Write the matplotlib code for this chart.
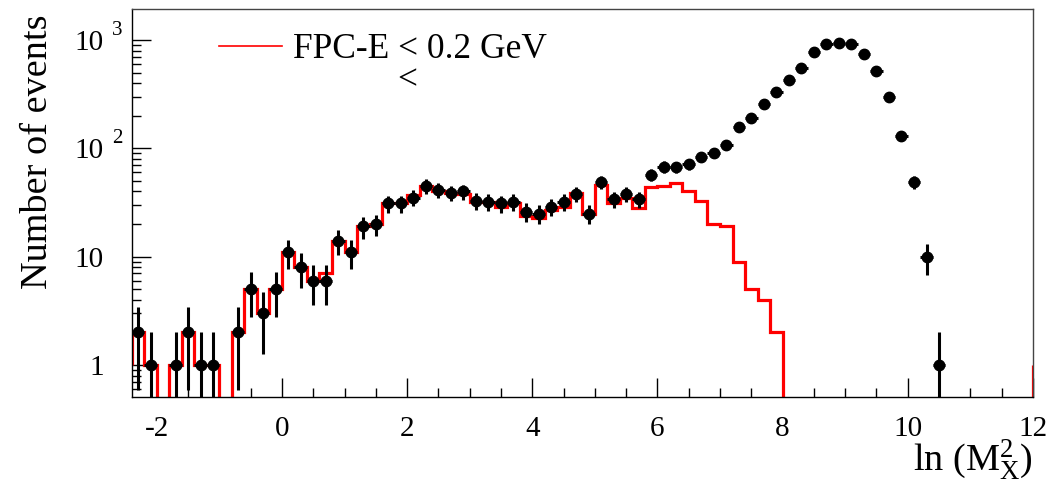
import numpy as np
import matplotlib
matplotlib.use("Agg")
import matplotlib.pyplot as plt
from matplotlib.lines import Line2D
from matplotlib.ticker import FixedLocator, LogLocator, MultipleLocator, NullFormatter
import matplotlib.transforms as mtransforms

plt.rcParams['font.family'] = ['Liberation Serif', 'DejaVu Serif']
plt.rcParams['mathtext.fontset'] = 'custom'
plt.rcParams['mathtext.rm'] = 'Liberation Serif'
plt.rcParams['mathtext.it'] = 'Liberation Serif:italic'
plt.rcParams['axes.unicode_minus'] = False

# histogram binning: 72 bins of 0.2 from -2.4 to 12
x_lo, x_hi, n_bins = -2.4, 12.0, 72

# all events (black points), bin centres -2.3 ... 11.9
all_counts = [2, 1, 0, 1, 2, 1, 1, 0, 2, 5, 3, 5,
              11, 8, 6, 6, 14, 11, 19, 20, 31, 31,
              35, 45, 41, 39, 40, 33, 32, 31, 32, 26,
              25, 29, 32, 38, 25, 49, 34, 38, 34, 57,
              68, 67, 71, 84, 91, 107, 157, 190, 259, 332,
              426, 554, 769, 918, 932, 912, 738, 516, 299, 130,
              49, 10, 1, 0, 0, 0, 0, 0, 0, 0]

# FPC-E < 0.2 GeV (red histogram)
fpc_counts = [2, 1, 0, 1, 2, 1, 1, 0, 2, 5, 3, 5,
              11, 8, 6, 7, 14, 11, 19, 20, 31, 31,
              37, 45, 40, 39, 38, 32, 32, 29, 31, 24,
              23, 27, 29, 39, 25, 46, 31, 35, 28, 44,
              45, 48, 40, 33, 20, 19, 9, 5, 4, 2,
              0, 0, 0, 0, 0, 0, 0, 0, 0, 0,
              0, 0, 0, 0, 0, 0, 0, 0, 0, 0]
fpc_underflow = 1
fpc_overflow = 1

legend_label = "FPC-E < 0.2 GeV"
y_ticks = [1, 10, 100, 1000]
y_ticklabels = ["1", "10", "10", "10"]
y_exponents = ["", "", "2", "3"]

edges = np.linspace(x_lo, x_hi, n_bins + 1)
centres = 0.5 * (edges[:-1] + edges[1:])
half_w = 0.5 * (edges[1] - edges[0])
all_counts = np.array(all_counts, dtype=float)
fpc_counts = np.array(fpc_counts, dtype=float)

fig = plt.figure(figsize=(10.54, 4.8), dpi=100)
ax = fig.add_axes([0.125, 0.173, 0.855, 0.808])
ax.set_yscale('log')

# red step histogram (zero bins fall off the log axis)
ymin, ymax = 0.507, 1930
fpc_draw = np.where(fpc_counts > 0, fpc_counts, 1e-3)
ax.stairs(fpc_draw, edges, baseline=None, color='red', lw=2.3, zorder=2)
ax.vlines(edges[0], fpc_underflow, fpc_draw[0], color='red', lw=2.3, zorder=2)
ax.vlines(edges[-1], fpc_draw[-1], fpc_overflow, color='red', lw=2.3, zorder=2)

# black data points with sqrt(N) errors
m = all_counts > 0
ax.errorbar(centres[m], all_counts[m], yerr=np.sqrt(all_counts[m]), xerr=half_w,
            fmt='o', color='black', ms=7.5, elinewidth=2.2, capsize=0, zorder=3)

ax.set_xlim(x_lo, x_hi)
ax.set_ylim(ymin, ymax)

ax.xaxis.set_major_locator(MultipleLocator(2))
ax.xaxis.set_minor_locator(MultipleLocator(0.5))
ax.yaxis.set_major_locator(FixedLocator(y_ticks))
ax.set_yticklabels(y_ticklabels)
ax.yaxis.set_minor_locator(LogLocator(base=10, subs=np.arange(2, 10)))
ax.yaxis.set_minor_formatter(NullFormatter())

ax.tick_params(which='both', direction='in', top=False, right=False, width=1, colors='black')
ax.tick_params(which='major', length=13.7)
ax.tick_params(which='minor', length=6.5)
ax.tick_params(axis='x', labelsize=21, pad=14)
ax.tick_params(axis='y', labelsize=21, pad=20)

# ROOT-style exponents sitting to the right of the "10"
trans = mtransforms.blended_transform_factory(ax.transAxes, ax.transData)
for v, e in zip(y_ticks, y_exponents):
    if e:
        ax.annotate(e, xy=(0, v), xycoords=trans, xytext=(-14, 7), textcoords='offset points',
                    ha='left', va='center', fontsize=15)

for s in ax.spines.values():
    s.set_linewidth(1.0)
ax.spines['top'].set_color('#444444')
ax.spines['right'].set_color('#444444')

ax.set_ylabel("Number of events", fontsize=27.5, loc='top')
ax.yaxis.set_label_coords(-0.085, 0.985)
ax.set_xlabel("ln (M$^{2}_{\\mathrm{X}}$)", fontsize=27.5, loc='right')
ax.xaxis.set_label_coords(1.0, -0.104)

handle = Line2D([], [], color='red', lw=1.2)
ax.legend([handle], [legend_label], loc='center left',
          bbox_to_anchor=(219 / 1054, 1 - 50 / 480), bbox_transform=fig.transFigure,
          frameon=False, fontsize=25.5, borderpad=0, borderaxespad=0,
          handlelength=1.78, handletextpad=0.31)
fig.text(407 / 1054, 1 - 81 / 480, "<", ha='center', va='center', fontsize=25.5)

fig.savefig("out.png", dpi=100)
